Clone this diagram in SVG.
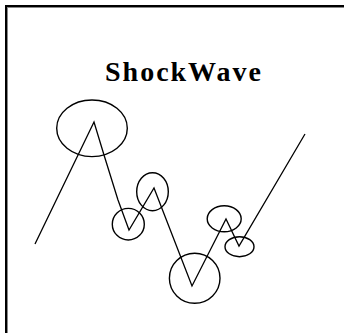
<svg xmlns="http://www.w3.org/2000/svg" width="344" height="333" viewBox="0 0 344 333">
  <style>
    .edge { fill: none; stroke: #000; stroke-width: 1.3; stroke-linejoin: miter; }
    .shock { fill: none; stroke: #000; stroke-width: 1.4; }
    .title { font-family: "Liberation Serif", "Times New Roman", serif; font-weight: bold; font-size: 28px; fill: #000; }
  </style>
  <rect x="0" y="0" width="344" height="333" fill="#fff"/>
  <g id="frame">
    <rect x="5" y="5" width="339" height="2" fill="#000"/>
    <rect x="5" y="5" width="2" height="328" fill="#000"/>
    <rect x="7" y="7" width="337" height="1" fill="#888"/>
    <rect x="7" y="7" width="1" height="326" fill="#888"/>
  </g>
  <g id="title">
    <text class="title" x="105" y="81" textLength="156" lengthAdjust="spacing">ShockWave</text>
  </g>
  <g id="connectors">
    <polyline class="edge" points="35,244 94,122 104,155 118,200 129,230 154,188 192,286 226,219 239,246 305,134"/>
  </g>
  <g id="shock1"><ellipse class="shock" cx="92" cy="128.3" rx="35.3" ry="28.3"/></g>
  <g id="shock2"><ellipse class="shock" cx="128.3" cy="224.2" rx="16" ry="15.8"/></g>
  <g id="shock3"><ellipse class="shock" cx="152.5" cy="191.7" rx="15.8" ry="19"/></g>
  <g id="shock4"><ellipse class="shock" cx="194.7" cy="278.3" rx="25.3" ry="25"/></g>
  <g id="shock5"><ellipse class="shock" cx="224.2" cy="218.8" rx="17" ry="13"/></g>
  <g id="shock6"><ellipse class="shock" cx="239.5" cy="246.7" rx="14.5" ry="10"/></g>
</svg>
